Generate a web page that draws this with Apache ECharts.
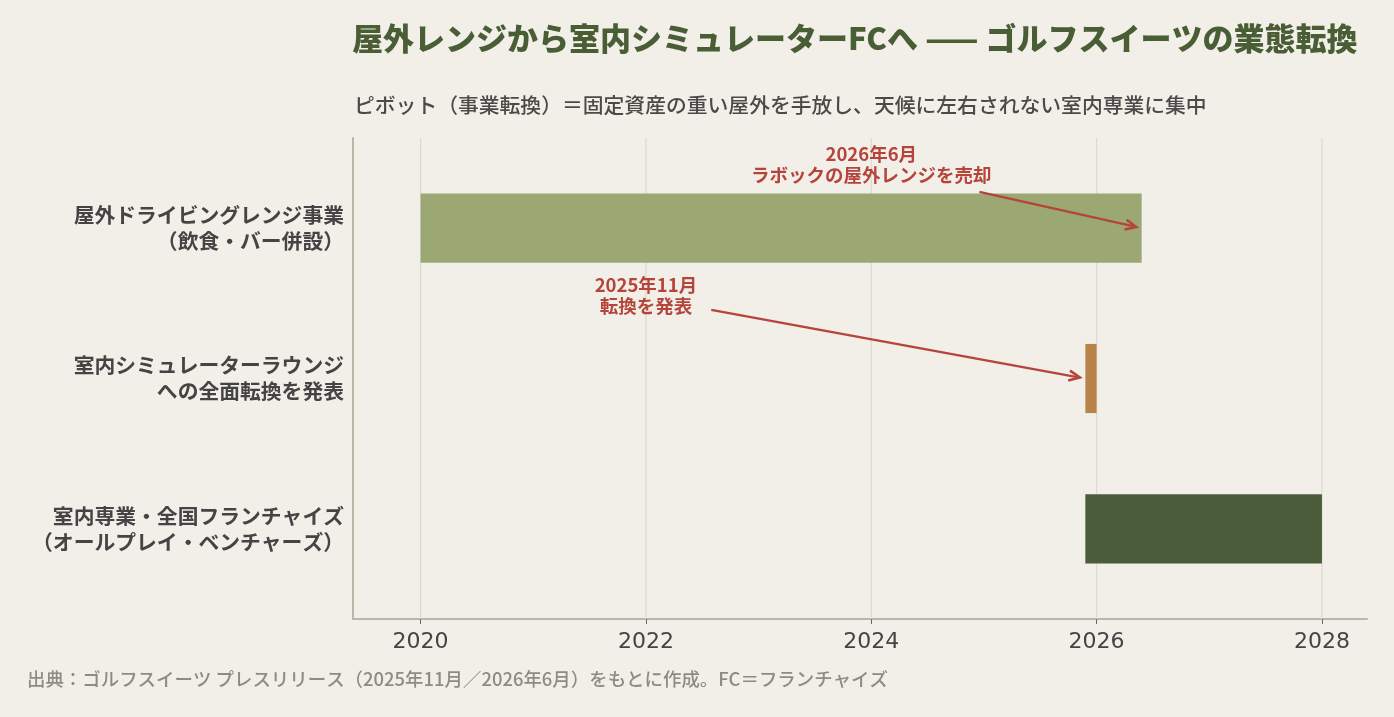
<!DOCTYPE html>
<html><head><meta charset="utf-8">
<script src="https://cdn.jsdelivr.net/npm/echarts@6/dist/echarts.min.js"></script>
<style>html,body{margin:0;padding:0;background:#F2EFE9}#c{width:1394px;height:717px}</style>
</head><body><div id="c"></div>
<script>
// ---- data ----
const categories = ['屋外ドライビングレンジ事業\n（飲食・バー併設）', '室内シミュレーターラウンジ\nへの全面転換を発表', '室内専業・全国フランチャイズ\n（オールプレイ・ベンチャーズ）'];
const barStarts = [2020, 2025.9, 2025.9];
const barEnds = [2026.4, 2026.0, 2028];
const yearTicks = [2020, 2022, 2024, 2026, 2028];
const annotationTexts = ['2026年6月\nラボックの屋外レンジを売却', '2025年11月\n転換を発表'];
const annotationDates = [2026.4, 2025.9];
const annotationRows = [0, 1];

// ---- styling / layout ----
const FONT = '"Noto Sans CJK JP", "Noto Sans", sans-serif';
const barColors = ['#9BA874', '#B8844A', '#4A5C3A'];
const n = categories.length;
const rowY = i => n - 1 - i;
// text anchor & arrow start (data coords) for each annotation
const annotationTextAt = [[2024.0, 2.424], [2022.0, 1.552]];
const annotationArrowFrom = [[2024.96, 2.241], [2022.58, 1.456]];
const RED = '#B5443A';

const chart = echarts.init(document.getElementById('c'), null, {renderer: 'canvas'});

const barData = categories.map((c, i) => [barStarts[i], barEnds[i], rowY(i), i]);
const annData = annotationTexts.map((t, i) => [
  annotationTextAt[i][0], annotationTextAt[i][1],
  annotationArrowFrom[i][0], annotationArrowFrom[i][1],
  annotationDates[i], rowY(annotationRows[i]), i
]);

chart.setOption({
  backgroundColor: '#F2EFE9',
  animation: false,
  title: [
    {text: '屋外レンジから室内シミュレーターFCへ —— ゴルフスイーツの業態転換', left: 352, top: 23, padding: 0,
     textStyle: {fontFamily: FONT, fontSize: 31, fontWeight: 900, color: '#4A5E36'}},
    {text: 'ピボット（事業転換）＝固定資産の重い屋外を手放し、天候に左右されない室内専業に集中', left: 354, top: 95, padding: 0,
     textStyle: {fontFamily: FONT, fontSize: 20.8, fontWeight: 500, color: '#4A4A48'}},
    {text: '出典：ゴルフスイーツ プレスリリース（2025年11月／2026年6月）をもとに作成。FC＝フランチャイズ', left: 27, top: 670, padding: 0,
     textStyle: {fontFamily: FONT, fontSize: 18.45, fontWeight: 500, color: '#8D8C84'}}
  ],
  grid: {left: 353, right: 27, top: 138, bottom: 98, containLabel: false},
  xAxis: {
    type: 'value', min: 2019.4, max: 2028.4,
    axisLine: {show: true, onZero: false, lineStyle: {color: '#B5B9A5', width: 2}},
    axisTick: {show: true, customValues: yearTicks, length: 5, lineStyle: {color: '#666', width: 1}},
    axisLabel: {customValues: yearTicks, margin: 12, fontFamily: '"DejaVu Sans", sans-serif', fontSize: 22, color: '#444',
                formatter: v => String(Math.round(v))},
    splitLine: {show: false}
  },
  yAxis: {
    type: 'value', min: -0.6, max: 2.6,
    axisLine: {show: true, onZero: false, lineStyle: {color: '#B5B9A5', width: 2}},
    axisTick: {show: false},
    splitLine: {show: false},
    axisLabel: {customValues: categories.map((c, i) => rowY(i)), margin: 9, align: 'right',
                fontFamily: FONT, fontSize: 20.8, fontWeight: 'bold', color: '#444', lineHeight: 26,
                padding: [12, 0, 0, 0],
                formatter: v => categories[n - 1 - Math.round(v)]}
  },
  series: [
    {
      type: 'custom', z: 1, silent: true,
      data: yearTicks.map(v => [v]),
      encode: {x: 0},
      renderItem: (params, api) => {
        const a = api.coord([api.value(0), -0.6]);
        const b = api.coord([api.value(0), 2.6]);
        return {type: 'line', shape: {x1: a[0], y1: a[1], x2: b[0], y2: b[1]},
                style: {stroke: '#DCDBD2', lineWidth: 1.3}};
      }
    },
    {
      type: 'custom', z: 2,
      data: barData,
      encode: {x: [0, 1], y: 2},
      renderItem: (params, api) => {
        const y = api.value(2);
        const p0 = api.coord([api.value(0), y]);
        const p1 = api.coord([api.value(1), y]);
        const h = api.size([0, 0.46])[1];
        return {type: 'rect', shape: {x: p0[0], y: p0[1] - h / 2, width: p1[0] - p0[0], height: h},
                style: {fill: barColors[api.value(3)]}};
      }
    },
    {
      type: 'custom', z: 3, silent: true,
      data: annData,
      encode: {x: [0, 2, 4], y: [1, 3, 5]},
      renderItem: (params, api) => {
        const t = api.coord([api.value(0), api.value(1)]);
        const f = api.coord([api.value(2), api.value(3)]);
        const g = api.coord([api.value(4), api.value(5)]);
        const dx = g[0] - f[0], dy = g[1] - f[1];
        const L = Math.sqrt(dx * dx + dy * dy);
        const ux = dx / L, uy = dy / L;
        const e = [g[0] - ux * 5.5, g[1] - uy * 5.5];
        const hl = 11, hw = 5;
        const b = [e[0] - ux * hl, e[1] - uy * hl];
        const px = -uy, py = ux;
        return {
          type: 'group',
          children: [
            {type: 'text', style: {text: annotationTexts[api.value(6)], x: t[0], y: t[1],
              align: 'center', verticalAlign: 'middle', fill: RED,
              fontFamily: FONT, fontSize: 18.5, fontWeight: 'bold', lineHeight: 21}},
            {type: 'line', shape: {x1: f[0], y1: f[1], x2: e[0], y2: e[1]},
             style: {stroke: RED, lineWidth: 2.3}},
            {type: 'polyline', shape: {points: [[b[0] + px * hw, b[1] + py * hw], e, [b[0] - px * hw, b[1] - py * hw]]},
             style: {stroke: RED, lineWidth: 2.5, fill: null, lineJoin: 'miter'}}
          ]
        };
      }
    }
  ]
});
</script>
</body></html>
